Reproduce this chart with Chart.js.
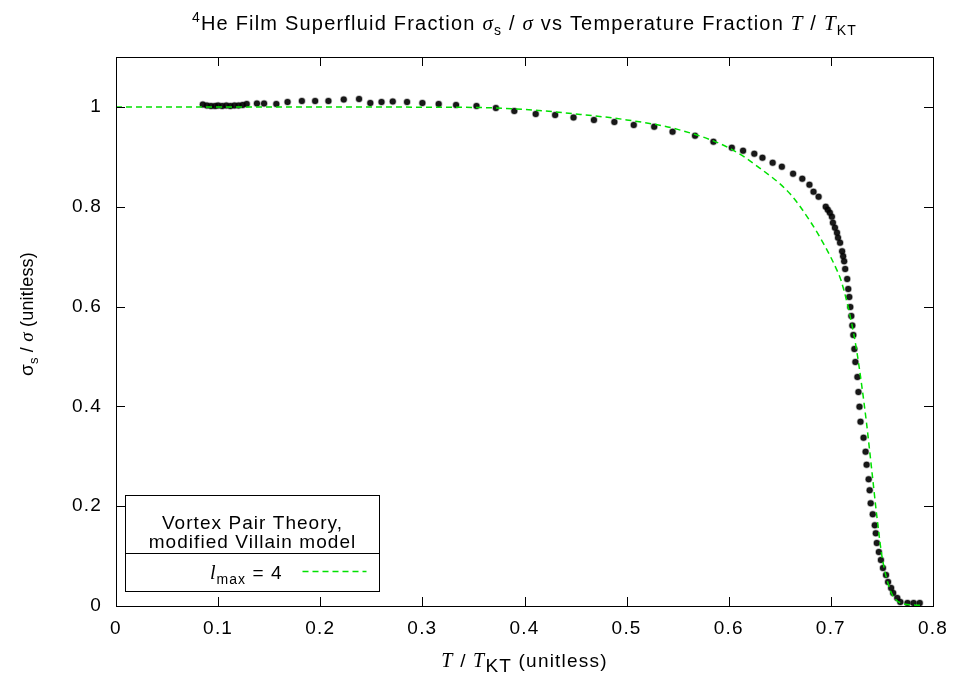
<!DOCTYPE html>
<html>
<head>
<meta charset="utf-8">
<title>4He film superfluid fraction</title>
<script src="https://cdn.jsdelivr.net/npm/chart.js@4.4.1/dist/chart.umd.min.js"></script>
<style>
  html, body { margin: 0; padding: 0; background: #fff; }
</style>
</head>
<body>
<canvas id="chart" width="953" height="675"></canvas>
<script>
// measured superfluid fraction vs T/T_KT
const tempFrac = [0.085,0.089,0.093,0.097,0.100,0.104,0.108,0.112,0.116,0.120,0.124,0.128,
  0.138,0.145,0.157,0.168,0.182,0.195,0.208,0.223,
  0.238,0.249,0.260,0.271,0.285,0.300,0.316,0.333,0.353,0.372,0.390,0.411,
  0.430,0.448,0.468,0.488,0.507,0.527,0.545,0.567,0.585,0.603,
  0.614,0.625,0.633,0.643,0.652,0.663,0.672,0.679,0.683,0.688,
  0.695,0.697,0.699,0.701,0.702,0.704,0.706,0.707,0.709,0.711,
  0.712,0.713,0.714,0.716,0.717,0.718,0.719,0.720,0.721,0.722,
  0.723,0.724,0.726,0.727,0.728,0.729,0.732,0.734,0.735,0.737,
  0.738,0.739,0.741,0.743,0.744,0.745,0.747,0.749,0.751,0.754,
  0.756,0.759,0.761,0.765,0.768,0.775,0.781,0.787];
const sfFrac = [1.005,1.003,1.002,1.002,1.003,1.002,1.003,1.002,1.003,1.003,1.004,1.006,
  1.007,1.007,1.006,1.010,1.012,1.012,1.012,1.015,
  1.016,1.008,1.010,1.011,1.010,1.008,1.006,1.004,1.002,0.998,0.992,0.986,
  0.984,0.979,0.974,0.970,0.964,0.960,0.950,0.942,0.930,0.918,
  0.912,0.906,0.898,0.888,0.880,0.866,0.856,0.844,0.830,0.820,
  0.800,0.794,0.788,0.780,0.768,0.758,0.748,0.738,0.728,0.711,
  0.701,0.691,0.675,0.655,0.635,0.619,0.599,0.581,0.562,0.543,
  0.515,0.489,0.459,0.429,0.399,0.369,0.337,0.309,0.283,0.254,
  0.232,0.206,0.184,0.162,0.146,0.126,0.108,0.092,0.076,0.062,
  0.048,0.036,0.026,0.016,0.008,0.006,0.006,0.006];

// vortex pair theory, modified Villain model, l_max = 4
const theoryT = [0,0.1,0.2,0.3,0.35,0.4,0.45,0.5,0.55,0.6,0.63,0.66,0.68,0.695,0.705,0.710,0.715,
  0.720,0.725,0.730,0.735,0.740,0.745,0.750,0.755,0.760,0.765,0.770,0.780,0.790];
const theoryS = [1,1,1,0.9995,0.999,0.995,0.986,0.974,0.955,0.918,0.878,0.826,0.770,0.718,0.677,0.652,0.615,
  0.570,0.515,0.445,0.365,0.273,0.180,0.100,0.052,0.023,0.010,0.005,0.002,0.001];

const X_TICKS = [0, 0.1, 0.2, 0.3, 0.4, 0.5, 0.6, 0.7, 0.8];
const Y_TICKS = [0, 0.2, 0.4, 0.6, 0.8, 1];

const SANS  = '"Liberation Sans", Arial, Helvetica, sans-serif';
const SERIF = '"Liberation Serif", "Times New Roman", serif';
const GREEN = 'rgb(0,225,0)';
const TICK_SPACING = '1.2px';

function richWidth(ctx, segs) {
  let w = 0;
  for (const s of segs) { ctx.font = s.font; w += ctx.measureText(s.t).width; }
  return w;
}
function drawRich(ctx, segs, x, y, align, spacing) {
  ctx.letterSpacing = (spacing || 0) + 'px';
  const w = richWidth(ctx, segs);
  let cx = align === 'center' ? x - w / 2 : align === 'right' ? x - w : x;
  ctx.textAlign = 'left';
  ctx.textBaseline = 'alphabetic';
  for (const s of segs) {
    ctx.font = s.font;
    ctx.fillText(s.t, cx, y + (s.dy || 0));
    cx += ctx.measureText(s.t).width;
  }
  ctx.letterSpacing = '0px';
}

const txt = (t, size = 19) => ({ t, font: `${size}px ${SANS}` });
const sub = (t, dy, size = 14) => ({ t, font: `${size}px ${SANS}`, dy });
const ital = (t, size = 20) => ({ t, font: `italic ${size}px ${SERIF}` });

const framePlugin = {
  id: 'gnuframe',
  beforeUpdate(chart) { chart.ctx.letterSpacing = TICK_SPACING; },
  beforeDraw(chart) { chart.ctx.letterSpacing = TICK_SPACING; },
  afterDraw(chart) {
    const { ctx, chartArea: ca, scales } = chart;
    ctx.save();
    ctx.strokeStyle = '#000';
    ctx.lineWidth = 1;
    ctx.strokeRect(Math.round(ca.left) + 0.5, Math.round(ca.top) + 0.5,
      Math.round(ca.right - ca.left), Math.round(ca.bottom - ca.top));

    // inward ticks on all four sides
    const TL = 9;
    ctx.beginPath();
    X_TICKS.forEach((v) => {
      const px = Math.round(scales.x.getPixelForValue(v)) + 0.5;
      ctx.moveTo(px, ca.bottom); ctx.lineTo(px, ca.bottom - TL);
      ctx.moveTo(px, ca.top);    ctx.lineTo(px, ca.top + TL);
    });
    Y_TICKS.forEach((v) => {
      const py = Math.round(scales.y.getPixelForValue(v)) + 0.5;
      ctx.moveTo(ca.left, py);  ctx.lineTo(ca.left + TL, py);
      ctx.moveTo(ca.right, py); ctx.lineTo(ca.right - TL, py);
    });
    ctx.stroke();

    ctx.fillStyle = '#000';
    const midX = (ca.left + ca.right) / 2;

    // title
    drawRich(ctx, [
      sub('4', -8), txt('He Film Superfluid Fraction ', 20), ital('σ', 21), sub('s', 5),
      txt(' / ', 20), ital('σ', 21), txt(' vs Temperature Fraction ', 20), ital('T', 21),
      txt(' / ', 20), ital('T', 21), sub('KT', 5),
    ], midX, 30, 'center', 1.2);

    // x title
    drawRich(ctx, [ital('T'), txt(' / '), ital('T'), { t: 'KT', font: `19px ${SANS}`, dy: 5 },
      txt(' (unitless)')], midX, 667, 'center', 1.2);

    // y title
    ctx.save();
    ctx.translate(33, 314);
    ctx.rotate(-Math.PI / 2);
    drawRich(ctx, [txt('σ', 19), sub('s', 5, 13), txt(' / ', 18), ital('σ', 19), txt(' (unitless)', 18)],
      0, 0, 'center', 0.2);
    ctx.restore();

    // legend box
    const L = Math.round(ca.left) + 9.5, R = L + 254;
    const T = Math.round(ca.bottom) - 110.5, B = Math.round(ca.bottom) - 14.5;
    const S = T + 58;
    ctx.fillStyle = '#fff';
    ctx.fillRect(L, T, R - L, B - T);
    ctx.strokeStyle = '#000';
    ctx.strokeRect(L, T, R - L, B - T);
    ctx.beginPath(); ctx.moveTo(L, S); ctx.lineTo(R, S); ctx.stroke();
    ctx.fillStyle = '#000';
    const cx = (L + R) / 2;
    drawRich(ctx, [txt('Vortex Pair Theory,')], cx, T + 33, 'center', 1.05);
    drawRich(ctx, [txt('modified Villain model')], cx, T + 52, 'center', 1.05);
    drawRich(ctx, [ital('l'), sub('max', 5), txt(' = 4')], L + 157, T + 83, 'right', 1.05);
    ctx.strokeStyle = GREEN;
    ctx.lineWidth = 1.5;
    ctx.setLineDash([6, 4]);
    ctx.beginPath(); ctx.moveTo(L + 177, T + 76); ctx.lineTo(L + 241, T + 76); ctx.stroke();
    ctx.restore();
  },
};

new Chart(document.getElementById('chart'), {
  type: 'scatter',
  data: {
    datasets: [
      {
        label: 'l_max = 4',
        type: 'line',
        data: theoryT.map((t, i) => ({ x: t, y: theoryS[i] })),
        borderColor: GREEN,
        borderWidth: 1.5,
        borderDash: [6, 4],
        pointRadius: 0,
        fill: false,
        cubicInterpolationMode: 'monotone',
        order: 0,
      },
      {
        label: 'data',
        data: tempFrac.map((t, i) => ({ x: t, y: sfFrac[i] })),
        pointRadius: 3,
        pointBackgroundColor: 'rgba(0,0,0,0.9)',
        pointBorderColor: 'rgba(0,0,0,0.3)',
        pointBorderWidth: 1.5,
        order: 1,
      },
    ],
  },
  options: {
    responsive: false,
    animation: false,
    layout: { padding: { top: 57, right: 20, left: 0, bottom: 0 } },
    plugins: { legend: { display: false }, tooltip: { enabled: false } },
    scales: {
      x: {
        type: 'linear', min: 0, max: 0.8,
        afterBuildTicks: (s) => { s.ticks = X_TICKS.map((v) => ({ value: v })); },
        afterFit: (s) => { s.height = 69; s.paddingLeft = 0; s.paddingRight = 0; },
        grid: { display: false, drawTicks: false },
        border: { display: false },
        ticks: { color: '#000', padding: 11, font: { family: SANS, size: 19 }, maxRotation: 0,
          callback: (v) => String(v) },
      },
      y: {
        type: 'linear', min: 0, max: 1.1,
        afterBuildTicks: (s) => { s.ticks = Y_TICKS.map((v) => ({ value: v })); },
        afterFit: (s) => { s.width = 116; s.paddingTop = 0; s.paddingBottom = 0; },
        grid: { display: false, drawTicks: false },
        border: { display: false },
        ticks: { color: '#000', padding: 14, font: { family: SANS, size: 19 },
          callback: (v) => String(v) },
      },
    },
  },
  plugins: [framePlugin],
});
</script>
</body>
</html>
